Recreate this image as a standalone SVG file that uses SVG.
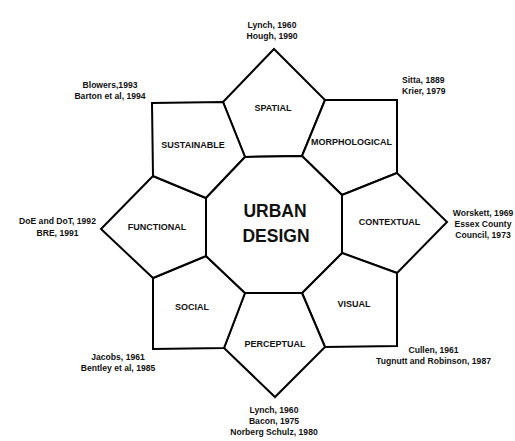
<svg xmlns="http://www.w3.org/2000/svg" width="515" height="441" viewBox="0 0 515 441">
<style>
.sh{fill:#fff;stroke:#000;stroke-width:2;stroke-linejoin:miter}
.lb{font-family:"Liberation Sans",Arial,sans-serif;font-weight:bold;font-size:9px;fill:#111;text-anchor:middle}
.ct{font-family:"Liberation Sans",Arial,sans-serif;font-weight:bold;font-size:8.6px;fill:#111;text-anchor:middle}
.big{font-family:"Liberation Sans",Arial,sans-serif;font-weight:bold;font-size:17.5px;fill:#111;text-anchor:middle}
</style>
<rect width="515" height="441" fill="#fff"/>
<g id="spatial">
<polygon class="sh" points="274,49 325,100 302,156 245,157 223,102"/>
<text class="lb" x="273" y="111">SPATIAL</text>
</g>
<g id="morphological">
<polygon class="sh" points="325,100 397,100 397,173 342,195 302,156"/>
<text class="lb" x="351.5" y="145">MORPHOLOGICAL</text>
</g>
<g id="contextual">
<polygon class="sh" points="397,173 447,222 397,273 342,253 342,195"/>
<text class="lb" x="389.5" y="225">CONTEXTUAL</text>
</g>
<g id="visual">
<polygon class="sh" points="397,273 397,346 325,347 302,293 342,253"/>
<text class="lb" x="354" y="307">VISUAL</text>
</g>
<g id="perceptual">
<polygon class="sh" points="302,293 325,347 275,397 224,348 245,293"/>
<text class="lb" x="275" y="347">PERCEPTUAL</text>
</g>
<g id="social">
<polygon class="sh" points="245,293 224,348 153,349 153,278 206,256"/>
<text class="lb" x="192" y="310">SOCIAL</text>
</g>
<g id="functional">
<polygon class="sh" points="206,256 153,278 101,229 153,176 206,198"/>
<text class="lb" x="157" y="230">FUNCTIONAL</text>
</g>
<g id="sustainable">
<polygon class="sh" points="206,198 153,176 152,103 223,102 245,157"/>
<text class="lb" x="193" y="148">SUSTAINABLE</text>
</g>
<g id="urban-design">
<polygon class="sh" points="245,157 302,156 342,195 342,253 302,293 245,293 206,256 206,198"/>
<text class="big" x="275" y="217">URBAN</text>
<text class="big" x="276" y="242">DESIGN</text>
</g>
<g id="citations">
<text class="ct" x="272" y="27.5">Lynch, 1960</text>
<text class="ct" x="272" y="38.5">Hough, 1990</text>
<text class="ct" x="110" y="88">Blowers,1993</text>
<text class="ct" x="110" y="99">Barton et al, 1994</text>
<text class="ct" x="402" y="83" style="text-anchor:start">Sitta, 1889</text>
<text class="ct" x="402" y="94" style="text-anchor:start">Krier, 1979</text>
<text class="ct" x="57.5" y="224">DoE and DoT, 1992</text>
<text class="ct" x="57.5" y="236">BRE, 1991</text>
<text class="ct" x="483" y="216">Worskett, 1969</text>
<text class="ct" x="483" y="227">Essex County</text>
<text class="ct" x="483" y="238">Council, 1973</text>
<text class="ct" x="118" y="360">Jacobs, 1961</text>
<text class="ct" x="118" y="371">Bentley et al, 1985</text>
<text class="ct" x="433.5" y="353">Cullen, 1961</text>
<text class="ct" x="433.5" y="364">Tugnutt and Robinson, 1987</text>
<text class="ct" x="274" y="413">Lynch, 1960</text>
<text class="ct" x="274" y="424">Bacon, 1975</text>
<text class="ct" x="274" y="435">Norberg Schulz, 1980</text>
</g>
</svg>
